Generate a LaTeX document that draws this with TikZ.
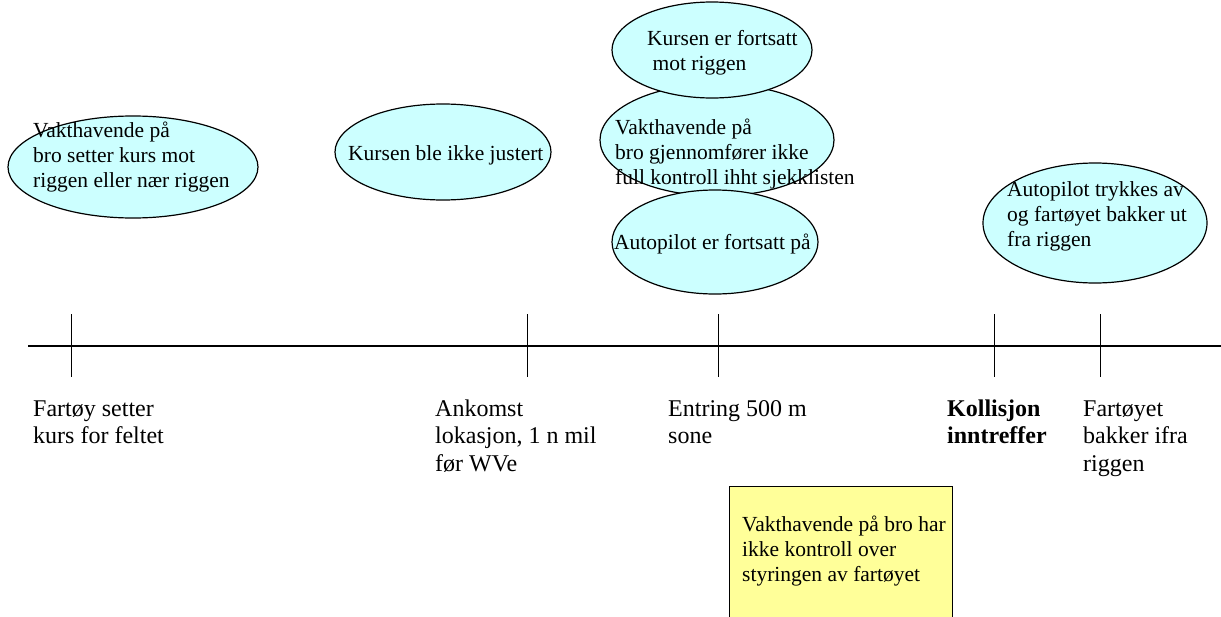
\documentclass[tikz,border=0pt]{standalone}
\usepackage{fontspec}
\setmainfont{Liberation Serif}
\usetikzlibrary{shapes.geometric}
\definecolor{ecyan}{HTML}{CCFFFF}
\definecolor{byellow}{HTML}{FFFF99}
\newcommand{\mylines}[1]{\begin{tabular}[t]{@{}l@{}}#1\end{tabular}}
\tikzset{
  evt/.style={ellipse, draw=black, line width=1.2pt, fill=ecyan, inner sep=0pt},
  etxt/.style={anchor=base west, inner sep=0pt, font=\fontsize{21.5}{25}\selectfont},
  tltxt/.style={anchor=base west, inner sep=0pt, font=\fontsize{24}{27.5}\selectfont},
  tick/.style={line width=0.9pt},
  axis/.style={line width=1.8pt},
  notebox/.style={draw=black, line width=1pt, fill=byellow, anchor=north west, inner sep=0pt}
}
\begin{document}
\begin{tikzpicture}[x=1pt,y=-1pt]
\useasboundingbox (0,0) rectangle (1221,616);
% timeline
\coordinate (axL) at (28,346);
\coordinate (axR) at (1221,346);
\draw[axis] (axL) -- (axR);
\foreach \n/\x in {t1/71,t2/527,t3/718,t4/994,t5/1100}{
  \coordinate (\n top) at (\x,314);
  \coordinate (\n bot) at (\x,377);
  \draw[tick] (\n top) -- (\n bot);
}
% timeline labels
\node[tltxt] (l1) at (33,416) {\mylines{Fartøy setter\\kurs for feltet}};
\node[tltxt] (l2) at (435,416) {\mylines{Ankomst\\lokasjon, 1 n mil\\før WVe}};
\node[tltxt] (l3) at (668,416) {\mylines{Entring 500 m\\sone}};
\node[tltxt] (l4) at (947,416) {\mylines{\bfseries Kollisjon\\\bfseries inntreffer}};
\node[tltxt] (l5) at (1083,416) {\mylines{Fartøyet\\bakker ifra\\riggen}};
% ellipses
\node[evt, minimum width=250pt, minimum height=102pt] (e1) at (133,167) {};
\node[etxt] (e1t) at (33,137) {\mylines{Vakthavende på\\bro setter kurs mot\\riggen eller nær riggen}};
\node[evt, minimum width=216pt, minimum height=96pt] (e2) at (443,152) {};
\node[etxt] (e2t) at (348,160) {Kursen ble ikke justert};
\node[evt, minimum width=234pt, minimum height=112pt] (e4) at (717,140) {};
\node[etxt] (e4t) at (615,134) {\mylines{Vakthavende på\\bro gjennomfører ikke\\full kontroll ihht sjekklisten}};
\node[evt, minimum width=206pt, minimum height=104pt] (e5) at (715,242) {};
\node[etxt] (e5t) at (614,249) {Autopilot er fortsatt på};
\node[evt, minimum width=200pt, minimum height=96pt] (e3) at (712,50) {};
\node[etxt] (e3t) at (647,45) {\mylines{Kursen er fortsatt\\\ mot riggen}};
\node[evt, minimum width=224pt, minimum height=120pt] (e6) at (1095,223) {};
\node[etxt] (e6t) at (1007,196) {\mylines{Autopilot trykkes av\\og fartøyet bakker ut\\fra riggen}};
% note box
\node[notebox, minimum width=223pt, minimum height=134pt] (box) at (729,486) {};
\node[etxt] (boxt) at (742,531) {\mylines{Vakthavende på bro har\\ikke kontroll over\\styringen av fartøyet}};
\end{tikzpicture}
\end{document}
